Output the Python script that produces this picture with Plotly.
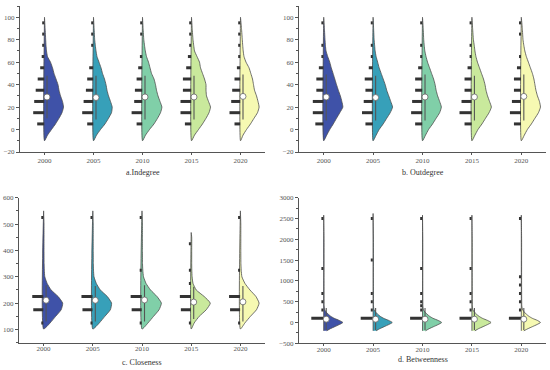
import plotly.graph_objects as go

years = ["2000", "2005", "2010", "2015", "2020"]
colors = ["#3f52a8", "#37a0b9", "#80cfa8", "#c9e99c", "#f6f9b2"]
titles = ["a.Indegree", "b. Outdegree", "c. Closeness", "d. Betweenness"]

# ---------- panel a: Indegree ----------
a_grid = [-10, -5, 0, 5, 10, 15, 20, 25, 30, 35, 40, 45, 50, 55, 60, 65, 70, 75, 80, 90, 100]
a_dens = [
    [0, 3, 7, 11, 14.5, 17.5, 19, 18, 16, 14.5, 13.5, 11.5, 9.5, 8, 6, 3, 2, 1.5, 1.2, 0.6, 0],
    [0, 3, 7, 11.5, 15, 18, 18.7, 17, 15, 13.5, 12.5, 11, 9, 7.5, 5.5, 3.5, 2.5, 1.8, 1.2, 0.6, 0],
    [0, 3, 7, 11.5, 15, 18, 19.4, 17.5, 15.5, 14, 13, 11.5, 9, 7.5, 6, 4, 2.8, 2, 1.3, 0.6, 0],
    [0, 3, 7, 11, 14.5, 17.5, 19, 17, 15, 14.5, 14.5, 13, 11, 9, 8, 5.5, 3, 2.2, 1.5, 0.7, 0],
    [0, 2.5, 6, 10, 13.5, 17, 18.6, 17.5, 16, 14, 13, 12, 10.3, 8.5, 5.5, 3.5, 2.7, 2.2, 1.8, 1, 0],
]
a_top = [100, 100, 100, 100, 100]
a_bins = [5, 15, 25, 35, 45, 55, 65, 75, 85, 95]
a_counts = [
    [7, 11, 10, 8.5, 6.5, 4, 2.5, 2, 2, 2],
    [6, 11, 9.6, 7.3, 6, 4, 0, 2, 2, 2],
    [5.6, 10.6, 8, 7.3, 5.6, 4, 2.3, 0, 2, 2],
    [6.3, 10.7, 10.7, 8.3, 8.3, 5, 3.3, 2, 2, 2],
    [5.7, 10.7, 9, 8, 5.7, 3.3, 2, 2, 2, 2],
]
a_lo = [10, 9, 9, 9, 9]
a_hi = [48, 48, 48, 48, 49]
a_med = [29, 28.5, 29, 29, 29.5]

# ---------- panel b: Outdegree ----------
b_grid = a_grid
b_dens = [
    [0, 3, 6, 9.5, 12.7, 16, 19, 18, 16.5, 14.5, 12.7, 11, 9.3, 7.5, 6, 4, 2.3, 1.7, 1.3, 0.7, 0],
    [0, 3, 6, 10, 13.5, 17, 19.3, 17.5, 15.5, 13.5, 12, 10, 8, 6, 4.5, 3, 2, 1.5, 1, 0.5, 0],
    [0, 3, 6, 10, 13.5, 17, 18.7, 17, 15, 13.5, 12.5, 11, 9, 7, 5, 3.5, 2.3, 1.7, 1.2, 0.7, 0],
    [0, 3, 6, 10, 13.5, 17, 19.3, 17.5, 15.5, 14, 13, 11.5, 9.5, 7.5, 5.5, 4, 3, 2.3, 1.5, 0.7, 0],
    [0, 3, 6, 10, 13.5, 17, 19, 18, 16, 14.5, 13.5, 12.5, 11, 9, 7, 5, 3.5, 2.5, 1.7, 1, 0],
]
b_top = [100, 100, 100, 100, 100]
b_bins = a_bins
b_counts = [
    [8, 10.5, 10.5, 7, 7, 4.5, 2, 2, 0, 2],
    [7.3, 10.7, 9, 7.3, 8, 4, 2, 2, 0, 2],
    [7, 11, 10, 7, 7, 4, 2, 2, 0, 2],
    [7, 12, 10, 7, 7, 4, 2, 2, 0, 2],
    [7, 11, 9, 7, 7, 4, 2, 0, 2, 2],
]
b_lo = [8, 8, 8, 8, 8]
b_hi = [49, 48, 49, 48, 49]
b_med = [29, 28.5, 29, 29, 29.5]

# ---------- panel c: Closeness ----------
c_grid = [102, 125, 150, 175, 200, 225, 250, 275, 300, 325, 350, 400, 450, 500, 550]
c_dens = [
    [0, 6.5, 12, 17.5, 19, 14.5, 7.5, 3.5, 1.2, 0.7, 0.5, 0.4, 0.4, 0.4, 0],
    [0, 6.5, 12, 17.5, 18.7, 14.5, 7.5, 3.5, 1.2, 0.7, 0.5, 0.4, 0.4, 0.4, 0],
    [0, 6, 11.5, 17, 19.3, 15, 8.5, 4, 1.5, 0.8, 0.5, 0.4, 0.4, 0.4, 0],
    [0, 3, 8, 15, 19, 13, 5, 1.8, 0.9, 0.6, 0.5, 0.5, 0.5, 0, 0],
    [0, 4.5, 10, 16, 18.6, 15.5, 9.5, 4.5, 1.5, 0.8, 0.5, 0.4, 0.4, 0.4, 0],
]
c_top = [550, 550, 550, 468, 550]
c_bins = [125, 175, 225, 275, 325, 425, 525]
c_counts = [
    [2, 10, 11, 0, 0, 0, 2],
    [2, 10, 11, 0, 0, 0, 2],
    [2, 10, 11, 0, 2, 0, 2],
    [2, 10, 11, 2, 2, 2, 0],
    [2, 10, 11, 0, 2, 0, 2],
]
c_lo = [130, 130, 130, 140, 130]
c_hi = [268, 265, 268, 262, 265]
c_med = [211, 211, 212, 204, 205]

# ---------- panel d: Betweenness ----------
d_grid = [-200, -150, -100, -50, 0, 50, 100, 150, 200, 250, 300, 350, 400, 1000, 2000, 2580]
d_dens = [
    [3, 6.5, 11, 15.5, 19, 15.5, 10.5, 7, 4.5, 2.5, 1, 0.6, 0.4, 0.3, 0.3, 0],
    [3, 6.5, 11, 15.5, 19, 15.5, 10.5, 7, 4.5, 2.5, 1, 0.6, 0.4, 0.3, 0.3, 0],
    [3, 6.5, 11, 15.5, 19, 15.5, 10.5, 7, 4.5, 2.5, 1, 0.6, 0.4, 0.3, 0.3, 0],
    [3, 6.5, 11, 15.5, 19, 15.5, 10.5, 7, 4.5, 2.5, 1, 0.6, 0.4, 0.3, 0.3, 0],
    [2.5, 6.5, 11, 15.5, 19, 16, 11, 7.5, 5, 3, 1.5, 0.8, 0.5, 0.3, 0.3, 0],
]
d_top = [2580, 2620, 2580, 2580, 2580]
d_bins = [100, 300, 400, 500, 700, 900, 1100, 1300, 1500, 2500]
d_counts = [
    [12, 2, 0, 2, 2, 0, 0, 2, 0, 2],
    [12, 2, 0, 2, 2, 0, 0, 0, 2, 2],
    [12, 2, 2, 2, 2, 0, 0, 2, 0, 2],
    [12, 2, 0, 2, 2, 0, 0, 2, 0, 2],
    [12, 2, 0, 2, 2, 2, 2, 0, 0, 2],
]
d_lo = [-180, -180, -180, -180, -180]
d_hi = [350, 350, 350, 350, 350]
d_med = [80, 80, 80, 80, 80]

PX = 1 / 49.0  # one pixel in category units
FONT = "Liberation Serif"

panels = [
    (a_grid, a_dens, a_top, a_bins, a_counts, a_lo, a_hi, a_med),
    (b_grid, b_dens, b_top, b_bins, b_counts, b_lo, b_hi, b_med),
    (c_grid, c_dens, c_top, c_bins, c_counts, c_lo, c_hi, c_med),
    (d_grid, d_dens, d_top, d_bins, d_counts, d_lo, d_hi, d_med),
]

fig = go.Figure()

for p, (grid, dens, tops, bins, counts, lo, hi, med) in enumerate(panels):
    xa = "x" if p == 0 else f"x{p+1}"
    ya = "y" if p == 0 else f"y{p+1}"
    for i in range(len(years)):
        pos = i
        ys = [g for g in grid if g < tops[i]] + [tops[i]]
        ws = [w for g, w in zip(grid, dens[i]) if g < tops[i]] + [0]
        vx = [pos + w * PX for w in ws] + [pos, pos]
        vy = ys + [ys[-1], ys[0]]
        fig.add_trace(go.Scatter(
            x=vx, y=vy, xaxis=xa, yaxis=ya, mode="lines", fill="toself",
            fillcolor=colors[i], line=dict(color="#4d4d4d", width=0.8, shape="spline", smoothing=0.5),
            hoverinfo="skip"))
        # rain bars
        bx, by = [], []
        for v, c in zip(bins, counts[i]):
            if c <= 0:
                continue
            bx += [pos - 0.3 * PX, pos - (c + 0.3) * PX, None]
            by += [v, v, None]
        fig.add_trace(go.Scatter(
            x=bx, y=by, xaxis=xa, yaxis=ya, mode="lines",
            line=dict(color="#333333", width=3), hoverinfo="skip"))
        # box whisker line + median dot
        fig.add_trace(go.Scatter(
            x=[pos + 2.5 * PX, pos + 2.5 * PX], y=[lo[i], hi[i]], xaxis=xa, yaxis=ya,
            mode="lines", line=dict(color="#555555", width=1.1), hoverinfo="skip"))
        fig.add_trace(go.Scatter(
            x=[pos + 2.5 * PX], y=[med[i]], xaxis=xa, yaxis=ya, mode="markers",
            marker=dict(color="white", size=6, line=dict(color="#666666", width=0.8)),
            hoverinfo="skip"))

W, H = 550, 370
xdoms = [(20, 265), (299, 546), (19, 265), (299, 546)]
ydoms = [(6, 152), (6, 152), (197.7, 342.7), (197.7, 343.3)]
yranges = [(-20, 110), (-20, 110), (50, 600), (-500, 3000)]
ydt = [20, 20, 100, 500]
ymin = [10, 10, 50, 250]
title_y = [172, 172, 362, 359]
xlab_shift = [0, 0, -3, -3]

axcommon = dict(showline=True, linecolor="#555555", linewidth=1, ticks="outside",
                tickcolor="#555555", showgrid=False, zeroline=False, automargin=False,
                tickfont=dict(family=FONT, size=7, color="#555555"))
annotations = []
for p in range(4):
    sfx = "" if p == 0 else str(p + 1)
    x0, x1 = xdoms[p]
    y0, y1 = ydoms[p]
    fig.layout["xaxis" + sfx] = dict(
        domain=[x0 / W, x1 / W], anchor="y" + sfx,
        range=[-0.5, 4.5], tickvals=list(range(5)), ticktext=years, ticklen=2,
        ticklabelstandoff=xlab_shift[p], **axcommon)
    fig.layout["yaxis" + sfx] = dict(
        domain=[1 - y1 / H, 1 - y0 / H], anchor="x" + sfx,
        range=list(yranges[p]), dtick=ydt[p], tick0=0, ticklen=3,
        minor=dict(dtick=ymin[p], tick0=0, ticklen=2, ticks="outside", tickcolor="#555555"),
        **axcommon)
    annotations.append(dict(
        text=titles[p], x=(x0 + x1) / 2 / W, y=1 - title_y[p] / H,
        xref="paper", yref="paper", showarrow=False, xanchor="center", yanchor="middle",
        font=dict(family=FONT, size=8, color="#333333")))

fig.update_layout(
    width=W, height=H, margin=dict(l=0, r=0, t=0, b=0),
    paper_bgcolor="white", plot_bgcolor="white", showlegend=False,
    annotations=annotations)

fig.write_html("out.html", config={"displayModeBar": False},
               post_script="document.body.style.margin='0px';")
